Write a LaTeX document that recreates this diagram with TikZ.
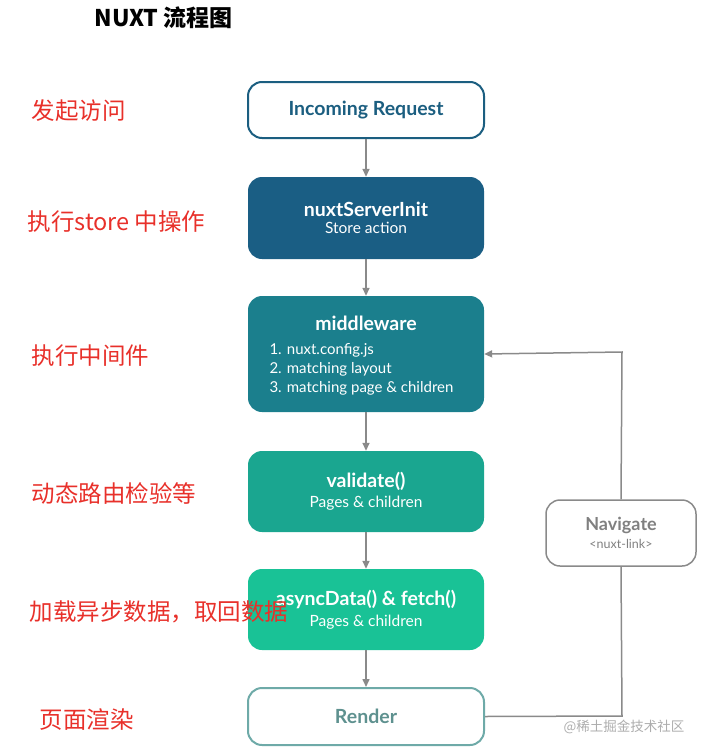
\documentclass[tikz,border=0pt]{standalone}
\usepackage{fontspec}
\setmainfont{Lato}
\newfontfamily\cjk{Noto Sans CJK SC}
\usetikzlibrary{arrows.meta}
\definecolor{cA}{HTML}{1B5E80}
\definecolor{cB}{HTML}{1A5E84}
\definecolor{cC}{HTML}{1B7F8D}
\definecolor{cD}{HTML}{1AA690}
\definecolor{cE}{HTML}{19C296}
\definecolor{cF}{HTML}{6EAAA8}
\definecolor{redl}{HTML}{E8302A}
\definecolor{gl}{HTML}{8A8A8A}
\tikzset{
 x=1pt,y=-1pt,
 box/.style={rounded corners=14pt,minimum width=236pt,align=center,inner sep=0pt},
 ttl/.style={font=\fontsize{19.5}{22}\selectfont\bfseries},
 sub/.style={font=\fontsize{15.5}{18}\selectfont},
 lbl/.style={anchor=west,text=redl,font=\cjk\fontsize{23.5}{26}\selectfont},
 arr/.style={draw=gl,line width=1.5pt,-{Triangle[length=8pt,width=7pt]}},
 ln/.style={draw=gl,line width=1.5pt}
}
\begin{document}
\begin{tikzpicture}
\useasboundingbox (0,0) rectangle (717,755);
\node[anchor=west,font=\fontsize{23}{25}\selectfont\bfseries\cjk] (title) at (91,18) {NUXT 流程图};
\node[box,draw=cA,line width=2pt,fill=white,minimum height=56pt,text=cA,ttl] (inc) at (366,110) {Incoming Request};
\node[box,fill=cB,minimum height=82pt,text=white] (srv) at (366,218) {{\fontsize{19.5}{22}\selectfont\bfseries nuxtServerInit}\\[5pt]{\fontsize{15.5}{18}\selectfont Store action}};
\node[box,fill=cC,minimum height=116pt,text=white] (mw) at (366,354) {};
\node[ttl,text=white] at (366,323) {middleware};
\node[text=white,anchor=north west,align=left,font=\fontsize{15}{19}\selectfont] at (266,340) {1. nuxt.config.js\\2. matching layout\\3. matching page \& children};
\node[box,fill=cD,minimum height=81pt,text=white] (val) at (366,491.5) {{\fontsize{19.5}{22}\selectfont\bfseries validate()}\\[5pt]{\fontsize{15.5}{18}\selectfont Pages \& children}};
\node[box,fill=cE,minimum height=81pt,text=white] (async) at (366,609.5) {{\fontsize{19.5}{22}\selectfont\bfseries asyncData() \& fetch()}\\[5pt]{\fontsize{15.5}{18}\selectfont Pages \& children}};
\node[box,draw=cF,line width=2pt,fill=white,minimum height=57pt,text=cF!85!black,ttl] (ren) at (366,716.5) {Render};
\node[box,draw=gl,line width=1.5pt,minimum width=150pt,minimum height=66pt,text=gray] (nav) at (621,533) {{\fontsize{18}{20}\selectfont\bfseries Navigate}\\[4pt]{\fontsize{12.5}{14}\selectfont <nuxt-link>}};
\draw[arr] (inc) -- (srv);
\draw[arr] (srv) -- (mw);
\draw[arr] (mw) -- (val);
\draw[arr] (val) -- (async);
\draw[arr] (async) -- (ren);
\coordinate (c1) at (622,716);
\coordinate (c2) at (622,352);
\draw[ln] (ren.east) -- (c1) -- (nav.south);
\draw[arr] (nav.north) -- (c2) -- (mw.east);
\node[lbl] (l1) at (28,111) {发起访问};
\node[lbl] (l2) at (24,222) {执行store 中操作};
\node[lbl] (l3) at (28,356) {执行中间件};
\node[lbl] (l4) at (28,493) {动态路由检验等};
\node[lbl] (l5) at (26,612) {加载异步数据，取回数据};
\node[lbl] (l6) at (36,720) {页面渲染};
\node[anchor=west,text=gl!70,font=\cjk\fontsize{13.5}{15}\selectfont] (wm) at (560,727) {@稀土掘金技术社区};
\end{tikzpicture}
\end{document}
